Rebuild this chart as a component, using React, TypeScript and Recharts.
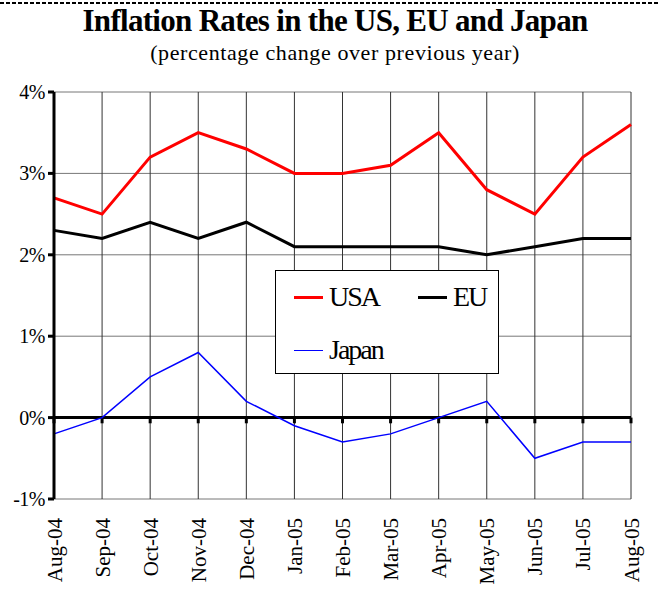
import { LineChart, Line, XAxis, YAxis, CartesianGrid, ReferenceLine, Legend } from "recharts";

const months = ["Aug-04", "Sep-04", "Oct-04", "Nov-04", "Dec-04", "Jan-05", "Feb-05", "Mar-05", "Apr-05", "May-05", "Jun-05", "Jul-05", "Aug-05"];
const usa = [2.7, 2.5, 3.2, 3.5, 3.3, 3.0, 3.0, 3.1, 3.5, 2.8, 2.5, 3.2, 3.6];
const eu = [2.3, 2.2, 2.4, 2.2, 2.4, 2.1, 2.1, 2.1, 2.1, 2.0, 2.1, 2.2, 2.2];
const japan = [-0.2, 0.0, 0.5, 0.8, 0.2, -0.1, -0.3, -0.2, 0.0, 0.2, -0.5, -0.3, -0.3];
const yTicks = [-1, 0, 1, 2, 3, 4];

const series = [
  { key: "USA", color: "#ff0000", width: 3 },
  { key: "EU", color: "#000000", width: 3 },
  { key: "Japan", color: "#0000ff", width: 1.5 },
];

const data = months.map((m, i) => ({ month: m, USA: usa[i], EU: eu[i], Japan: japan[i] }));

const SERIF = "'Liberation Serif', 'Times New Roman', serif";

function MonthTick({ x, y, payload }: any) {
  return (
    <g transform={`translate(${x},${y + 11})`}>
      <text transform="rotate(-90)" textAnchor="end" dy="0.36em" fill="#000"
        style={{ fontFamily: SERIF, fontSize: 21 }}>{payload.value}</text>
    </g>
  );
}

function PctTick({ x, y, payload }: any) {
  return (
    <text x={x} y={y} textAnchor="end" dy="0.35em" fill="#000"
      style={{ fontFamily: SERIF, fontSize: 20, letterSpacing: -0.5 }}>{`${payload.value}%`}</text>
  );
}

// legend slots inside the box: [line left, row centre]
const slots = [[18, 26], [142, 26], [18, 79]];

function LegendBox() {
  return (
    <div style={{ position: "relative", width: 224, height: 104, border: "1px solid #000",
      background: "#fff", boxSizing: "border-box" }}>
      {series.map((s, i) => (
        <div key={s.key} style={{ position: "absolute", left: slots[i][0], top: slots[i][1] - 20,
          height: 40, display: "flex", alignItems: "center" }}>
          <span style={{ display: "inline-block", width: 29, height: 0,
            borderTop: `${s.key === "Japan" ? 1 : 3}px solid ${s.color}`, marginRight: 6 }} />
          <span style={{ fontFamily: SERIF, fontSize: 28, letterSpacing: -2, color: "#000",
            lineHeight: "40px" }}>{s.key}</span>
        </div>
      ))}
    </div>
  );
}

export default function App() {
  return (
    <div style={{ position: "absolute", left: 0, top: 0, width: 659, height: 595, background: "#fff" }}>
      <svg width={659} height={6} style={{ position: "absolute", left: 0, top: 0 }}>
        <line x1={0} y1={3} x2={659} y2={3} stroke="#000" strokeWidth={2} strokeDasharray="4 2" />
      </svg>
      <div style={{ position: "absolute", left: 0, top: 4, width: 670, textAlign: "center",
        fontFamily: SERIF, fontWeight: "bold", fontSize: 31, letterSpacing: -0.7, lineHeight: "34px" }}>
        Inflation Rates in the US, EU and Japan
      </div>
      <div style={{ position: "absolute", left: 0, top: 40, width: 670, textAlign: "center",
        fontFamily: SERIF, fontSize: 22, letterSpacing: 0.6, lineHeight: "26px" }}>
        (percentage change over previous year)
      </div>
      <div style={{ position: "absolute", left: 0, top: 0 }}>
        <LineChart width={659} height={595} data={data}
          margin={{ top: 92, right: 28, bottom: 0, left: 0 }}>
          <CartesianGrid vertical={false} stroke="#777" strokeWidth={1} />
          <CartesianGrid horizontal={false} stroke="#333" strokeWidth={1} />
          <XAxis dataKey="month" axisLine={false} tickLine={false} height={96}
            interval={0} tick={<MonthTick />} />
          <YAxis domain={[-1, 4]} ticks={yTicks} width={54} interval={0}
            axisLine={{ stroke: "#000", strokeWidth: 3 }}
            tickLine={{ stroke: "#000", strokeWidth: 3 }} tickSize={6} tickMargin={3}
            tick={<PctTick />} />
          <ReferenceLine y={0} stroke="#000" strokeWidth={3} />
          {months.map((m) => (
            <ReferenceLine key={m} segment={[{ x: m, y: 0 }, { x: m, y: -0.07 }]}
              stroke="#000" strokeWidth={3} />
          ))}
          <Legend layout="horizontal" verticalAlign="middle" align="center"
            content={<LegendBox />}
            wrapperStyle={{ left: 275, top: 270, width: 224, height: 104 }} />
          {series.map((s) => (
            <Line key={s.key} dataKey={s.key} stroke={s.color} strokeWidth={s.width}
              dot={false} isAnimationActive={false} />
          ))}
        </LineChart>
      </div>
    </div>
  );
}
